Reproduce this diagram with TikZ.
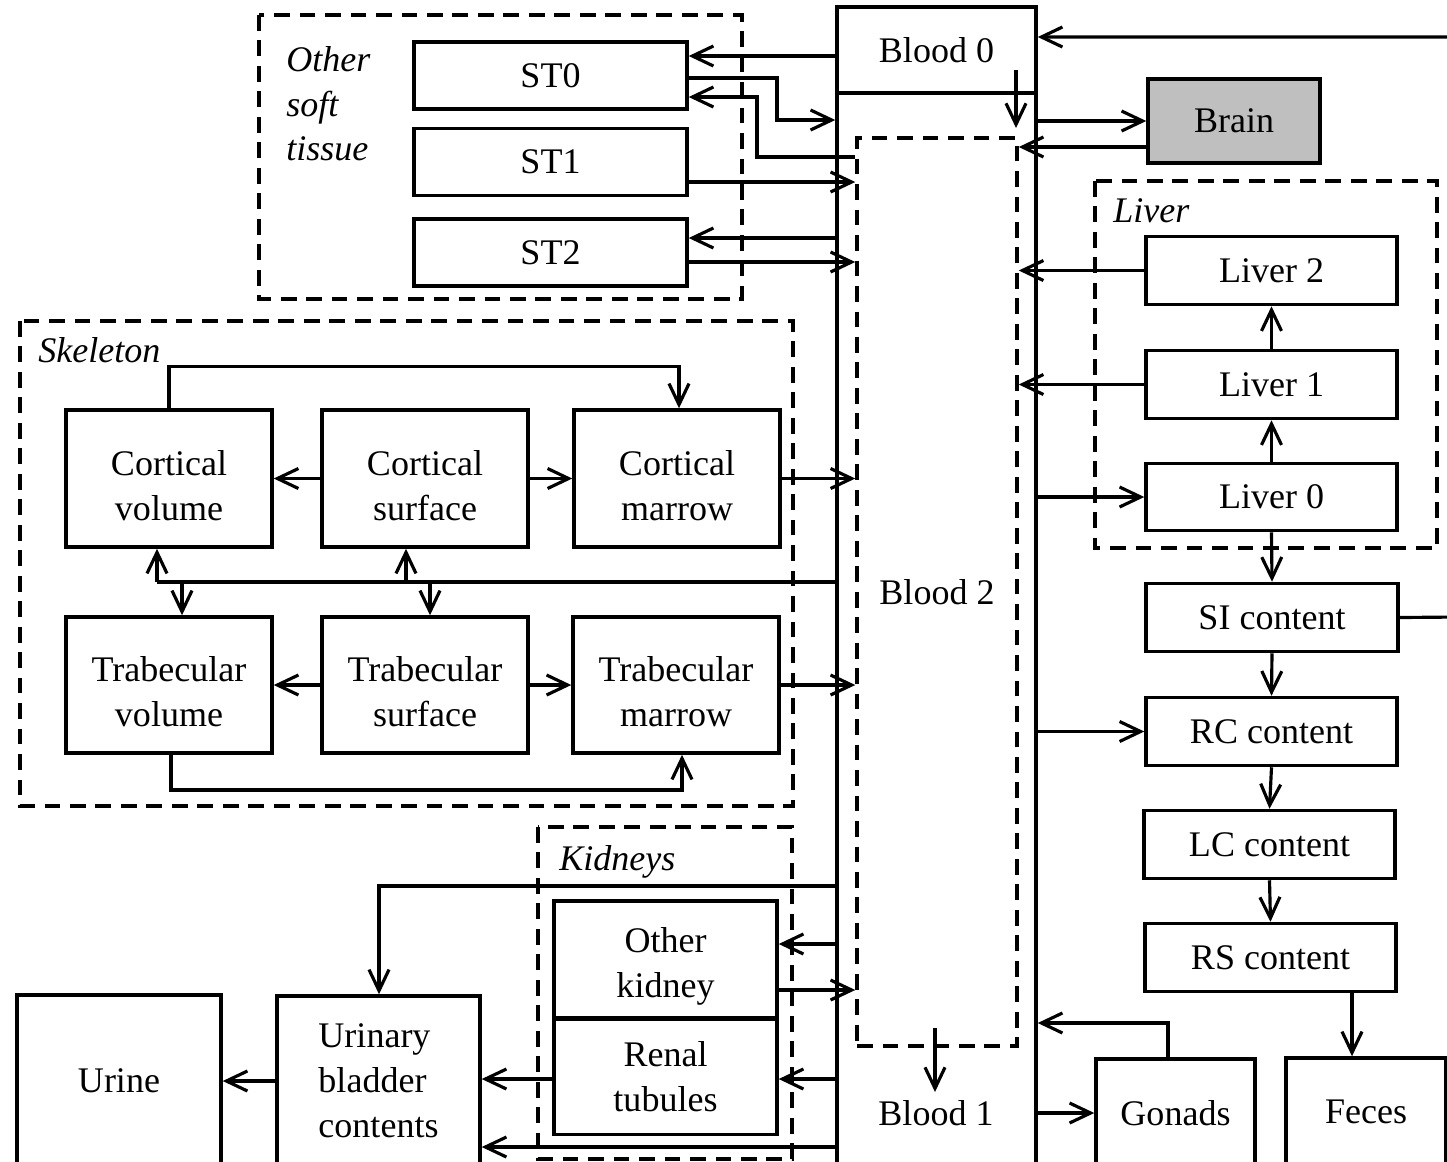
\documentclass[tikz,border=0pt]{standalone}
\usepackage{fontspec}
\setmainfont{Liberation Serif}
\usetikzlibrary{arrows.meta}
\newcommand{\LiftText}{\rule{0pt}{0.78cm}}

\begin{document}
\begin{tikzpicture}[x = 0.02cm, y = -0.02cm]
\tikzstyle{BoxStyle}=[draw, line width = 2pt,
                      inner sep = 0pt,
                      align = center,
                      font = \fontsize{20.5}{25.5}\selectfont]
\tikzstyle{GroupStyle}=[draw, line width = 2pt, dash pattern = on 9pt off 5.5pt]
\tikzstyle{LabelStyle}=[inner sep = 0pt, anchor = base west,
                        align = left,
                        font = \fontsize{20.5}{25.5}\selectfont\itshape]
\tikzstyle{FlowStyle}=[line width = 1.8pt, -{Straight Barb[length = 0.42cm, width = 0.4cm]}]
\tikzstyle{LineStyle}=[line width = 1.8pt]
\clip (0,0) rectangle (1447,1161);
\draw[GroupStyle] (259,15) rectangle (742,299);
\draw[GroupStyle] (20,321) rectangle (793,806);
\draw[GroupStyle] (1095,181) rectangle (1437,548);
\draw[GroupStyle] (538,827) rectangle (792,1159);
\node[LabelStyle, anchor = north west] (lsoft) at (286,46) {Other\\soft\\tissue};
\node[LabelStyle] (lskel) at (38,362) {Skeleton};
\node[LabelStyle] (lliver) at (1113,222) {Liver};
\node[LabelStyle] (lkid) at (559,870) {Kidneys};
\node[BoxStyle, minimum width = 3.98cm, minimum height = 23.86cm] (blood) at (936.5,603.5) {};
\node[BoxStyle, minimum width = 3.98cm, minimum height = 1.72cm] (blood0) at (936.5,50) {Blood 0};
\node[BoxStyle, GroupStyle, minimum width = 3.2cm, minimum height = 18.16cm] (blood2) at (937,592) {Blood 2};
\node[BoxStyle, draw = none] (blood1) at (936,1113) {Blood 1};
\node[BoxStyle, minimum width = 5.46cm, minimum height = 1.34cm] (st0) at (550.5,75.5) {ST0};
\node[BoxStyle, minimum width = 5.46cm, minimum height = 1.34cm] (st1) at (550.5,162) {ST1};
\node[BoxStyle, minimum width = 5.46cm, minimum height = 1.34cm] (st2) at (550.5,252.5) {ST2};
\node[BoxStyle, fill = black!25, minimum width = 3.44cm, minimum height = 1.68cm] (brain) at (1234,121) {Brain};
\node[BoxStyle, minimum width = 5.02cm, minimum height = 1.36cm] (liver2) at (1271.5,270.5) {Liver 2};
\node[BoxStyle, minimum width = 5.02cm, minimum height = 1.36cm] (liver1) at (1271.5,384.5) {Liver 1};
\node[BoxStyle, minimum width = 5.02cm, minimum height = 1.34cm] (liver0) at (1271.5,497) {Liver 0};
\node[BoxStyle, minimum width = 5.04cm, minimum height = 1.36cm] (si) at (1272,617.5) {SI content};
\node[BoxStyle, minimum width = 5.02cm, minimum height = 1.36cm] (rc) at (1271.5,731.5) {RC content};
\node[BoxStyle, minimum width = 5.02cm, minimum height = 1.36cm] (lc) at (1269.5,844.5) {LC content};
\node[BoxStyle, minimum width = 5.02cm, minimum height = 1.36cm] (rs) at (1270.5,957.5) {RS content};
\node[BoxStyle, minimum width = 3.18cm, minimum height = 2.16cm] (gonads) at (1175.5,1113) {Gonads};
\node[BoxStyle, minimum width = 3.2cm, minimum height = 2.16cm] (feces) at (1366,1112) {Feces};
\node[BoxStyle, minimum width = 4.12cm, minimum height = 2.74cm] (cv) at (169,478.5) {\LiftText Cortical\\volume};
\node[BoxStyle, minimum width = 4.12cm, minimum height = 2.74cm] (cs) at (425,478.5) {\LiftText Cortical\\surface};
\node[BoxStyle, minimum width = 4.12cm, minimum height = 2.74cm] (cm) at (677,478.5) {\LiftText Cortical\\marrow};
\node[BoxStyle, minimum width = 4.12cm, minimum height = 2.72cm] (tv) at (169,685) {\LiftText Trabecular\\volume};
\node[BoxStyle, minimum width = 4.12cm, minimum height = 2.72cm] (ts) at (425,685) {\LiftText Trabecular\\surface};
\node[BoxStyle, minimum width = 4.12cm, minimum height = 2.72cm] (tm) at (676,685) {\LiftText Trabecular\\marrow};
\node[BoxStyle, minimum width = 4.46cm, minimum height = 2.34cm] (ok) at (665.5,959.5) {\LiftText Other\\kidney};
\node[BoxStyle, minimum width = 4.46cm, minimum height = 2.3cm] (rt) at (665.5,1077) {Renal\\tubules};
\node[BoxStyle, align = left, minimum width = 4.06cm, minimum height = 3.4cm] (ub) at (378.5,1081) {Urinary\\bladder\\contents};
\node[BoxStyle, minimum width = 4.08cm, minimum height = 3.44cm] (urine) at (119,1081) {Urine};
\coordinate (b0out) at (1016,70);
\coordinate (b2out) at (935,1028);
\coordinate (skA) at (157,582);
\coordinate (skB) at (182,582);
\coordinate (skC) at (406,582);
\coordinate (skD) at (430,582);
\draw[FlowStyle] (blood0.west |- 0,56) -- (st0.east |- 0,56);
\draw[FlowStyle] (st0.east |- 0,78) -- (777,78) -- (777,120) -- (blood.west |- 0,120);
\draw[FlowStyle] (blood2.west |- 0,157) -- (757,157) -- (757,97) -- (st0.east |- 0,97);
\draw[FlowStyle] (st1.east |- 0,182) -- (blood2.west |- 0,182);
\draw[FlowStyle] (blood.west |- 0,238) -- (st2.east |- 0,238);
\draw[FlowStyle] (st2.east |- 0,262) -- (blood2.west |- 0,262);
\draw[FlowStyle] (b0out) -- (1016,128);
\draw[FlowStyle] (b2out) -- (935,1092);
\draw[FlowStyle] (blood.east |- brain.west) -- (brain.west);
\draw[FlowStyle] (brain.west |- 0,147) -- (blood2.east |- 0,147);
\draw[FlowStyle] (si.east) -- (1460,617) -- (1460,37) -- (blood0.east |- 0,37);
\draw[FlowStyle] (liver0.north) -- (liver1.south);
\draw[FlowStyle] (liver1.north) -- (liver2.south);
\draw[FlowStyle] (liver2.west) -- (blood2.east |- liver2.west);
\draw[FlowStyle] (liver1.west) -- (blood2.east |- liver1.west);
\draw[FlowStyle] (blood.east |- liver0.west) -- (liver0.west);
\draw[FlowStyle] (liver0.south) -- (si.north);
\draw[FlowStyle] (si.south) -- (rc.north);
\draw[FlowStyle] (rc.south) -- (lc.north);
\draw[FlowStyle] (lc.south) -- (rs.north);
\draw[FlowStyle] (blood.east |- rc.west) -- (rc.west);
\draw[FlowStyle] (rs.south -| 1352,0) -- (feces.north -| 1352,0);
\draw[FlowStyle] (gonads.north -| 1168,0) -- (1168,1023) -- (blood.east |- 0,1023);
\draw[FlowStyle] (blood.east |- gonads.west) -- (gonads.west);
\draw[FlowStyle] (cs.west) -- (cv.east);
\draw[FlowStyle] (cs.east) -- (cm.west);
\draw[FlowStyle] (cm.east) -- (blood2.west |- cm.east);
\draw[FlowStyle] (cv.north) -- ++(0,-42) -| (cm.north -| 679,0);
\draw[LineStyle] (blood.west |- skA) -- (skA);
\draw[FlowStyle] (skA) -- (cv.south -| skA);
\draw[FlowStyle] (skB) -- (tv.north -| skB);
\draw[FlowStyle] (skC) -- (cs.south -| skC);
\draw[FlowStyle] (skD) -- (ts.north -| skD);
\draw[FlowStyle] (ts.west) -- (tv.east);
\draw[FlowStyle] (ts.east) -- (tm.west);
\draw[FlowStyle] (tm.east) -- (blood2.west |- tm.east);
\draw[FlowStyle] (tv.south -| 171,0) -- (171,790) -| (tm.south -| 682,0);
\draw[FlowStyle] (blood.west |- 0,944) -- (ok.east |- 0,944);
\draw[FlowStyle] (ok.east |- 0,990) -- (blood2.west |- 0,990);
\draw[FlowStyle] (blood.west |- 0,1079) -- (rt.east |- 0,1079);
\draw[FlowStyle] (rt.west |- 0,1079) -- (ub.east |- 0,1079);
\draw[FlowStyle] (blood.west |- 0,886) -- (379,886) -- (ub.north -| 379,0);
\draw[FlowStyle] (blood.west |- 0,1147) -- (ub.east |- 0,1147);
\draw[FlowStyle] (ub.west) -- (urine.east |- ub.west);
\end{tikzpicture}
\end{document}
